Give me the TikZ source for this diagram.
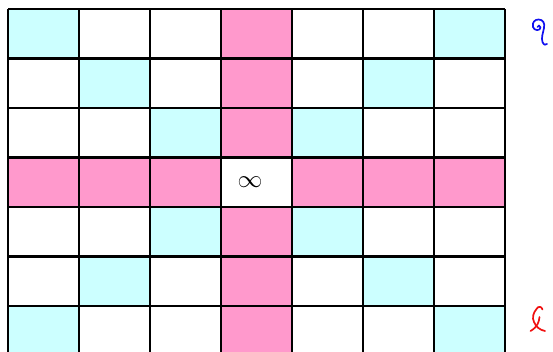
\documentclass[tikz,border=0pt]{standalone}
\definecolor{cellcyan}{HTML}{CCFFFF}
\definecolor{cellpink}{HTML}{FF99CC}
\definecolor{glyphblue}{HTML}{1010F0}
\definecolor{glyphred}{HTML}{F01010}
\begin{document}
\begin{tikzpicture}[x=1pt,y=-1pt,
  gridline/.style={line width=2.8pt,black},
  glyph/.style={line width=1.7pt,line cap=round,line join=round}]
\useasboundingbox (0,0) rectangle (553,351);
\clip (0,0) rectangle (553,351);
% cells
\foreach \i in {0,...,6}{
  \foreach \j in {0,...,6}{
    \pgfmathtruncatemacro{\d}{(\i==\j || \i+\j==6) ? 1 : 0}
    \pgfmathtruncatemacro{\p}{(\i==3 || \j==3) ? 1 : 0}
    \pgfmathtruncatemacro{\c}{(\i==3 && \j==3) ? 1 : 0}
    \ifnum\c=1
      \fill[white] (8+71*\i,9+49.5*\j) rectangle ++(71,49.5);
    \else\ifnum\p=1
      \fill[cellpink] (8+71*\i,9+49.5*\j) rectangle ++(71,49.5);
    \else\ifnum\d=1
      \fill[cellcyan] (8+71*\i,9+49.5*\j) rectangle ++(71,49.5);
    \fi\fi\fi
  }
}
% grid lines
\foreach \i in {0,...,7}{
  \draw[gridline] (8+71*\i,9) -- (8+71*\i,360);
}
\foreach \j in {0,...,6}{
  \draw[gridline] (8,9+49.5*\j) -- (505,9+49.5*\j);
}
\node (inf) at (250,182) {\fontsize{26}{26}\selectfont$\infty$};
% blue glyph
\draw[glyph,glyphblue] (537.5,27) .. controls (537.5,25) and (540.5,25) .. (540.5,27.5)
  .. controls (540.5,31) and (534,31) .. (533,27)
  .. controls (532,22) and (535,19.5) .. (538.5,19.5)
  .. controls (543,19.5) and (545,23) .. (544,28)
  .. controls (543,33) and (541,38) .. (542.5,42)
  .. controls (543.5,45) and (546,45.5) .. (547,44);
% red glyph
\draw[glyph,glyphred] (542.5,309.5) .. controls (541.5,306) and (538,306) .. (536.5,309)
  .. controls (533,313) and (532,318) .. (534,322)
  .. controls (536,327) and (540,330) .. (545,331);
\draw[glyph,glyphred] (539.5,317) .. controls (539,322) and (537.5,327) .. (530.5,331);
\end{tikzpicture}
\end{document}
